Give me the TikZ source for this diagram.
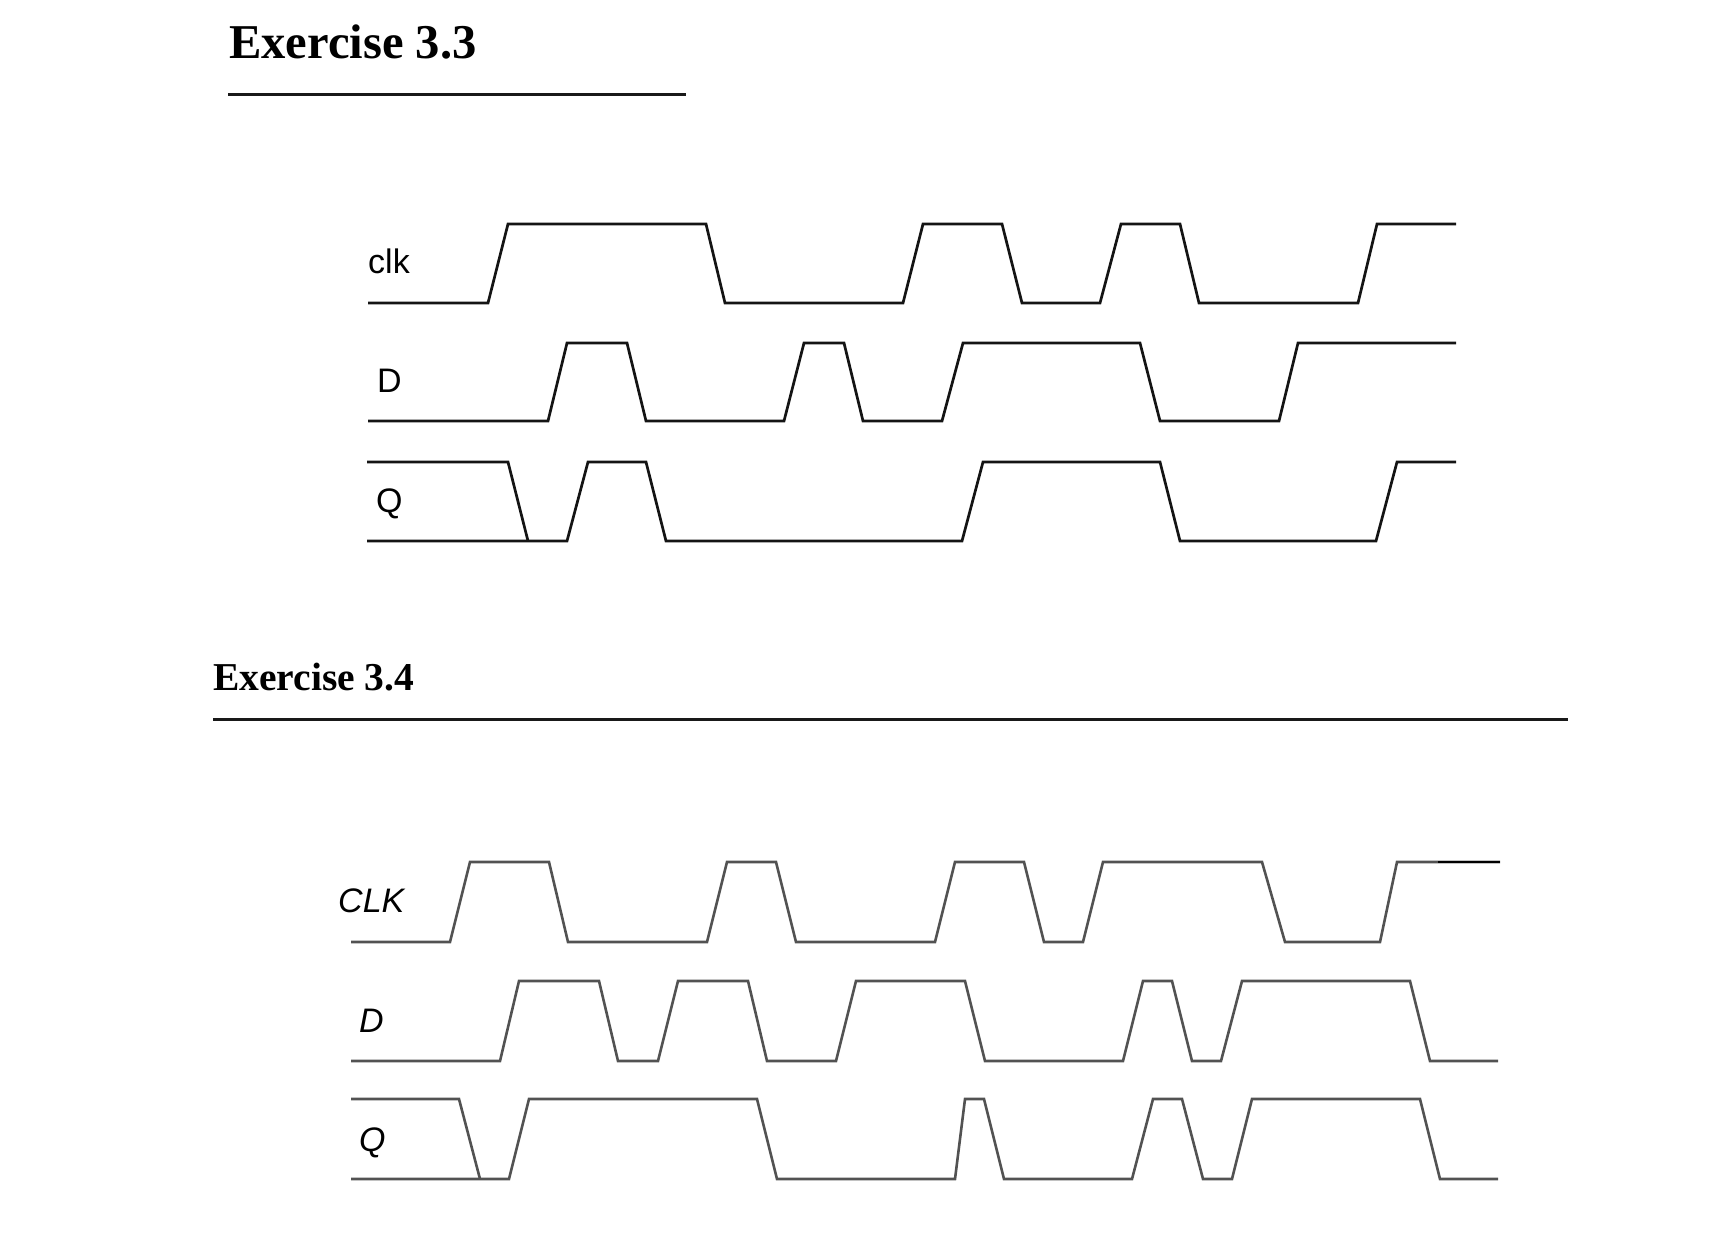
\documentclass[tikz,border=0pt]{standalone}
\usepackage{fontspec}
\setmainfont{Liberation Serif}
\newfontfamily\sigfont{Liberation Sans}
\begin{document}
\begin{tikzpicture}[x=1pt,y=-1pt,
  wavea/.style={line width=2.7pt, line join=miter, black!92},
  waveb/.style={line width=2.6pt, line join=miter, black!68},
  rule/.style={line width=3pt, black!90},
  title/.style={anchor=base west, inner sep=0pt, font=\bfseries},
  siglabel/.style={anchor=base west, inner sep=0pt, font=\sigfont\fontsize{34pt}{34pt}\selectfont}]
\useasboundingbox (0,0) rectangle (1714,1241);

% ---------- Exercise 3.3 ----------
\node[title, font=\bfseries\fontsize{48.6pt}{48.6pt}\selectfont] (t33) at (229,59) {Exercise 3.3};
\draw[rule] (228,95) -- (686,95);

\node[siglabel] (clkA) at (368,274) {clk};
\node[siglabel] (dA) at (377,392) {D};
\node[siglabel] (qA) at (376,512) {Q};

% clk
\draw[wavea] (368,303) -- (488,303) -- (508,224) -- (706,224) -- (725,303)
  -- (903,303) -- (923,224) -- (1002,224) -- (1022,303) -- (1100,303)
  -- (1121,224) -- (1180,224) -- (1199,303) -- (1358,303) -- (1377,224) -- (1456,224);
% D
\draw[wavea] (368,421) -- (548,421) -- (567,343) -- (627,343) -- (646,421)
  -- (784,421) -- (804,343) -- (844,343) -- (863,421) -- (942,421)
  -- (963,343) -- (1140,343) -- (1160,421) -- (1279,421) -- (1298,343) -- (1456,343);
% Q
\draw[wavea] (367,462) -- (508,462) -- (528,541);
\draw[wavea] (367,541) -- (567,541) -- (588,462) -- (646,462) -- (666,541)
  -- (962,541) -- (983,462) -- (1160,462) -- (1180,541) -- (1376,541)
  -- (1397,462) -- (1456,462);

% ---------- Exercise 3.4 ----------
\node[title, font=\bfseries\fontsize{39.5pt}{39.5pt}\selectfont] (t34) at (213,690) {Exercise 3.4};
\draw[rule] (213,719) -- (1568,719);

\node[siglabel, font=\sigfont\itshape\fontsize{34pt}{34pt}\selectfont] (clkB) at (338,912) {CLK};
\node[siglabel, font=\sigfont\itshape\fontsize{34pt}{34pt}\selectfont] (dB) at (359,1032) {D};
\node[siglabel, font=\sigfont\itshape\fontsize{34pt}{34pt}\selectfont] (qB) at (359,1151) {Q};

% CLK
\draw[waveb] (351,942) -- (450,942) -- (470,862) -- (549,862) -- (568,942)
  -- (707,942) -- (727,862) -- (776,862) -- (796,942) -- (935,942)
  -- (955,862) -- (1024,862) -- (1044,942) -- (1083,942) -- (1103,862)
  -- (1262,862) -- (1285,942) -- (1380,942) -- (1397,862) -- (1500,862);
\draw[line width=2.6pt, black] (1438,862) -- (1500,862);
% D
\draw[waveb] (351,1061) -- (500,1061) -- (519,981) -- (599,981) -- (618,1061)
  -- (658,1061) -- (678,981) -- (748,981) -- (767,1061) -- (836,1061)
  -- (856,981) -- (965,981) -- (985,1061) -- (1123,1061) -- (1143,981)
  -- (1172,981) -- (1192,1061) -- (1221,1061) -- (1242,981) -- (1410,981)
  -- (1430,1061) -- (1498,1061);
% Q
\draw[waveb] (351,1099) -- (459,1099) -- (480,1179);
\draw[waveb] (351,1179) -- (509,1179) -- (529,1099) -- (757,1099) -- (777,1179)
  -- (955,1179) -- (965,1099) -- (984,1099) -- (1004,1179) -- (1132,1179)
  -- (1153,1099) -- (1182,1099) -- (1203,1179) -- (1232,1179) -- (1252,1099)
  -- (1420,1099) -- (1440,1179) -- (1498,1179);
\end{tikzpicture}
\end{document}
